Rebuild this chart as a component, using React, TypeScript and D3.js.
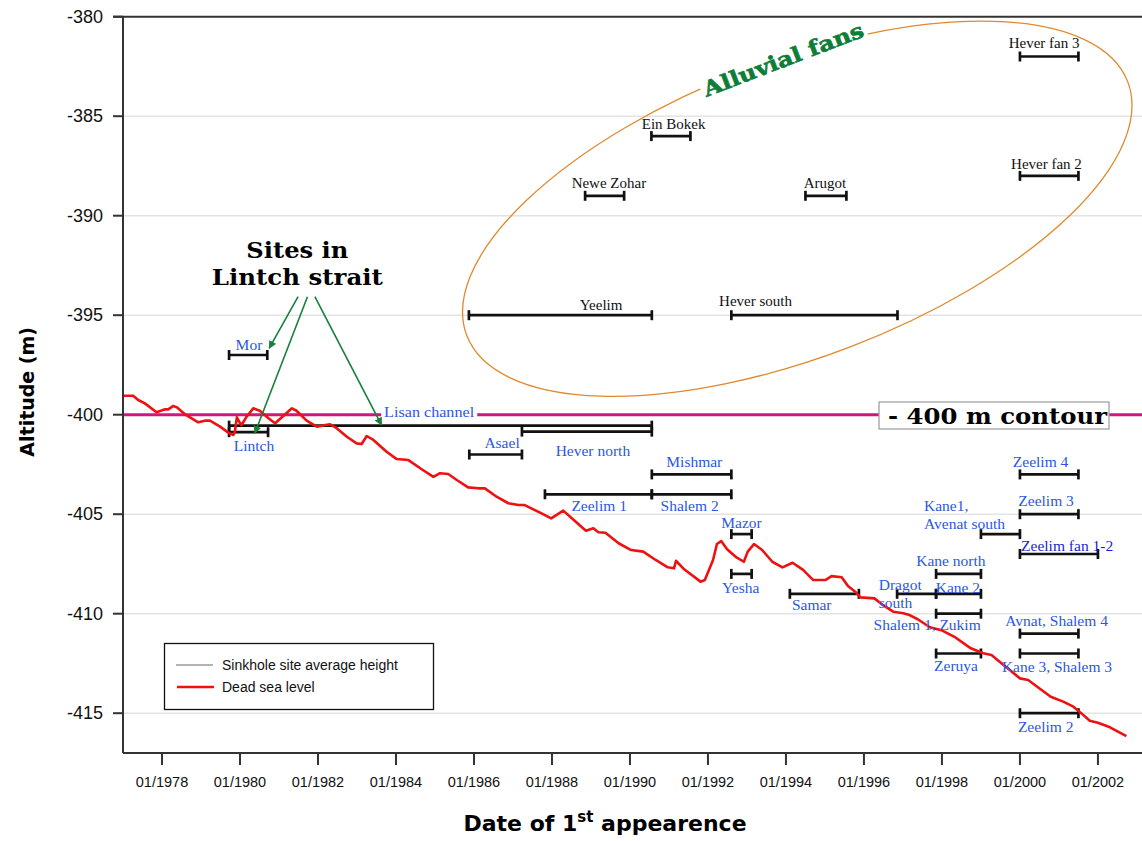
import React, { useEffect, useRef } from 'react';
import * as d3 from 'd3';

const W = 1142;
const H = 841;

const yTicks = [-415, -410, -405, -400, -395, -390, -385, -380];
const xTickYears = [1978, 1980, 1982, 1984, 1986, 1988, 1990, 1992, 1994, 1996, 1998, 2000, 2002];

// Dead sea level (decimal year, altitude m)
const seaYears = [
  1977.01, 1977.26, 1977.39, 1977.56, 1977.86, 1978.08, 1978.16, 1978.29, 1978.38, 1978.59,
  1978.76, 1978.93, 1979.1, 1979.23, 1979.49, 1979.7, 1979.83, 1979.87, 1979.92, 1979.98,
  1980.04, 1980.17, 1980.34, 1980.51, 1980.73, 1980.9, 1981.11, 1981.33, 1981.45, 1981.71,
  1981.97, 1982.31, 1982.48, 1982.74, 1982.99, 1983.12, 1983.25, 1983.42, 1983.76, 1984.02,
  1984.32, 1984.66, 1984.96, 1985.13, 1985.34, 1985.56, 1985.85, 1986.11, 1986.28, 1986.58,
  1986.88, 1987.14, 1987.3, 1987.72, 1987.98, 1988.29, 1988.61, 1988.87, 1989.06, 1989.19,
  1989.37, 1989.71, 1990.03, 1990.34, 1990.66, 1990.97, 1991.13, 1991.18, 1991.39, 1991.81,
  1991.92, 1992.13, 1992.23, 1992.34, 1992.49, 1992.71, 1992.92, 1993.02, 1993.18, 1993.39,
  1993.65, 1993.91, 1994.17, 1994.44, 1994.7, 1995.01, 1995.17, 1995.43, 1995.59, 1995.8,
  1995.91, 1996.27, 1996.48, 1996.75, 1997.01, 1997.17, 1997.38, 1997.69, 1998.01, 1998.32,
  1998.74, 1999.06, 1999.27, 1999.58, 2000.0, 2000.21, 2000.53, 2000.79, 2001.11, 2001.37,
  2001.58, 2001.79, 2002.0, 2002.31, 2002.73,
];
const seaLevels = [
  -399.05, -399.05, -399.26, -399.43, -399.88, -399.73, -399.73, -399.56, -399.63, -399.98,
  -400.18, -400.38, -400.3, -400.3, -400.6, -400.9, -401.02, -400.85, -400.13, -400.35,
  -400.52, -400.1, -399.68, -399.8, -400.18, -400.43, -400.07, -399.68, -399.8, -400.3,
  -400.6, -400.48, -400.68, -401.11, -401.44, -401.47, -401.07, -401.27, -401.86, -402.23,
  -402.28, -402.74, -403.12, -402.94, -402.98, -403.28, -403.65, -403.7, -403.7, -404.12,
  -404.45, -404.54, -404.54, -404.95, -405.21, -404.82, -405.38, -405.83, -405.71, -405.91,
  -405.93, -406.46, -406.8, -406.88, -407.3, -407.67, -407.72, -407.34, -407.77, -408.39,
  -408.31, -407.3, -406.5, -406.35, -406.76, -407.14, -407.39, -406.88, -406.5, -406.8,
  -407.39, -407.67, -407.44, -407.8, -408.31, -408.31, -408.11, -408.17, -408.61, -408.94,
  -409.18, -409.23, -409.56, -409.9, -409.98, -410.07, -410.28, -410.68, -410.85, -411.16,
  -411.74, -411.99, -412.08, -412.58, -413.25, -413.33, -413.8, -414.17, -414.42, -414.67,
  -415.01, -415.38, -415.48, -415.71, -416.15,
];

// Alluvial fan sites (black)
const fanNames = ['Hever fan 3', 'Ein Bokek', 'Hever fan 2', 'Newe Zohar', 'Arugot', 'Yeelim', 'Hever south'];
const fanStart = [2000.0, 1990.55, 2000.0, 1988.85, 1994.5, 1985.87, 1992.6];
const fanEnd = [2001.5, 1991.55, 2001.5, 1989.85, 1995.55, 1990.56, 1996.86];
const fanAlt = [-382, -386, -388, -389, -389, -395, -395];
const fanLabelYear = [2000.62, 1991.12, 2000.68, 1989.46, 1995.0, 1989.26, 1993.22];
const fanLabelAlt = [-381.32, -385.39, -387.4, -388.34, -388.34, -394.49, -394.27];

// Other sinkhole sites (blue)
const siteNames = [
  'Mor', 'Lintch', 'Lisan channel', 'Asael', 'Hever north', 'Mishmar', 'Zeelim 1', 'Shalem 2',
  'Mazor', 'Yesha', 'Samar', 'Dragot\nsouth', 'Kane north', 'Kane 2', 'Shalem 1, Zukim', 'Zeruya',
  'Kane1,\nAvenat south', 'Zeelim 4', 'Zeelim 3', 'Zeelim fan 1-2', 'Avnat, Shalem 4',
  'Kane 3, Shalem 3', 'Zeelim 2',
];
const siteStart = [
  1979.72, 1979.72, 1979.72, 1985.88, 1987.23, 1990.56, 1987.82, 1990.56,
  1992.6, 1992.6, 1994.1, 1996.85, 1997.85, 1997.85, 1997.85, 1997.85,
  1999.0, 2000.0, 2000.0, 2000.0, 2000.0, 2000.0, 2000.0,
];
const siteEnd = [
  1980.7, 1980.72, 1990.56, 1987.23, 1990.56, 1992.6, 1990.56, 1992.6,
  1993.12, 1993.12, 1995.87, 1997.85, 1999.0, 1999.0, 1999.0, 1999.0,
  2000.0, 2001.5, 2001.5, 2002.0, 2001.5, 2001.5, 2001.5,
];
const siteAlt = [
  -397, -400.88, -400.55, -402, -400.85, -403, -404, -404,
  -406, -408, -409, -409, -408, -409, -410, -412,
  -406, -403, -405, -407, -411, -412, -415,
];
const siteLabelYear = [
  1980.23, 1980.36, 1984.85, 1986.72, 1989.05, 1991.65, 1989.21, 1991.53,
  1992.86, 1992.84, 1994.66, 1996.38, 1998.23, 1998.41, 1997.62, 1998.36,
  1997.54, 2000.53, 2000.67, 2001.21, 2000.94, 2000.95, 2000.66,
];
const siteLabelAlt = [
  -396.45, -401.57, -399.91, -401.42, -401.82, -402.36, -404.54, -404.54,
  -405.44, -408.66, -409.56, -408.51, -407.34, -408.67, -410.52, -412.58,
  -404.54, -402.36, -404.29, -406.58, -410.35, -412.63, -415.68,
];

const BLUE = '#2a58e4';
const SERIF = "'Liberation Serif', 'Times New Roman', serif";
const SANS = "'Liberation Sans', Arial, sans-serif";
const SLAB = "'DejaVu Serif', serif";

const App = () => {
  const svgRef = useRef<SVGSVGElement | null>(null);

  useEffect(() => {
    if (!svgRef.current) return;
    const svg = d3.select(svgRef.current);
    svg.selectAll('*').remove();

    const x = d3.scaleLinear().domain([1977, 2003.13]).range([123, 1142]);
    const y = d3.scaleLinear().domain([-417, -380]).range([753, 16.7]);

    // 箭头
    const defs = svg.append('defs');
    defs.append('marker')
      .attr('id', 'greenArrow')
      .attr('viewBox', '0 0 10 10')
      .attr('refX', 9).attr('refY', 5)
      .attr('markerWidth', 8).attr('markerHeight', 8)
      .attr('markerUnits', 'userSpaceOnUse')
      .attr('orient', 'auto')
      .append('path')
      .attr('d', 'M0,0 L10,5 L0,10 z')
      .attr('fill', '#17803a');

    // grid
    yTicks.filter(t => t !== -380).forEach(t => {
      svg.append('line')
        .attr('x1', x(1977)).attr('x2', W)
        .attr('y1', y(t)).attr('y2', y(t))
        .attr('stroke', '#e3e3e3').attr('stroke-width', 1.5);
    });

    // -400 m contour
    svg.append('line')
      .attr('x1', x(1977)).attr('x2', W)
      .attr('y1', y(-400)).attr('y2', y(-400))
      .attr('stroke', '#d4157f').attr('stroke-width', 3);

    // alluvial fans ellipse
    const ex = x(1994.29), ey = y(-389.65);
    svg.append('ellipse')
      .attr('cx', 0).attr('cy', 0)
      .attr('rx', 354).attr('ry', 148)
      .attr('transform', `translate(${ex},${ey}) rotate(-21)`)
      .attr('fill', 'none')
      .attr('stroke', '#e0892e').attr('stroke-width', 1.3);

    const fanText = svg.append('g')
      .attr('transform', `translate(${x(1994.0)},${y(-382.5)}) rotate(-21)`);
    fanText.append('rect')
      .attr('x', -88).attr('y', -19).attr('width', 176).attr('height', 23)
      .attr('fill', '#fff');
    fanText.append('text')
      .attr('text-anchor', 'middle')
      .attr('font-family', SLAB).attr('font-weight', 900)
      .attr('font-size', 21).attr('fill', '#0d7d38')
      .attr('stroke', '#0d7d38').attr('stroke-width', 0.6)
      .attr('textLength', 170).attr('lengthAdjust', 'spacingAndGlyphs')
      .text('Alluvial fans');

    // bars
    const drawBar = (s: number, e: number, a: number) => {
      const g = svg.append('g').attr('stroke', '#111').attr('stroke-width', 2.7);
      g.append('line').attr('x1', x(s)).attr('x2', x(e)).attr('y1', y(a)).attr('y2', y(a));
      [s, e].forEach(v => {
        g.append('line').attr('x1', x(v)).attr('x2', x(v))
          .attr('y1', y(a) - 5).attr('y2', y(a) + 5);
      });
    };
    fanNames.forEach((_, i) => drawBar(fanStart[i], fanEnd[i], fanAlt[i]));
    siteNames.forEach((_, i) => drawBar(siteStart[i], siteEnd[i], siteAlt[i]));

    // dead sea level
    const line = d3.line<number>()
      .x((_, i) => x(seaYears[i]))
      .y(d => y(d));
    svg.append('path')
      .attr('d', line(seaLevels))
      .attr('fill', 'none')
      .attr('stroke', '#ee1111').attr('stroke-width', 2.6)
      .attr('stroke-linejoin', 'round');

    // labels
    fanNames.forEach((n, i) => {
      svg.append('text')
        .attr('x', x(fanLabelYear[i])).attr('y', y(fanLabelAlt[i]))
        .attr('text-anchor', 'middle').attr('dominant-baseline', 'central')
        .attr('font-family', SERIF).attr('font-size', 15).attr('fill', '#111')
        .text(n);
    });

    siteNames.forEach((n, i) => {
      const lines = n.split('\n');
      const multi = lines.length > 1;
      const isLisan = n === 'Lisan channel';
      const t = svg.append('text')
        .attr('x', x(siteLabelYear[i])).attr('y', y(siteLabelAlt[i]))
        .attr('text-anchor', multi ? 'start' : 'middle')
        .attr('dominant-baseline', 'central')
        .attr('font-family', SERIF)
        .attr('font-size', isLisan ? 14 : 15.5)
        .attr('fill', n === 'Zeelim fan 1-2' ? '#1c1fd0' : BLUE);
      if (multi) {
        lines.forEach((l, k) => {
          t.append('tspan')
            .attr('x', x(siteLabelYear[i]))
            .attr('dy', k === 0 ? 0 : 17.5)
            .text(l);
        });
      } else {
        t.text(n);
      }
      if (isLisan) {
        t.attr('textLength', 90).attr('lengthAdjust', 'spacingAndGlyphs');
        const bb = (t.node() as SVGTextElement).getBBox();
        svg.insert('rect', () => t.node())
          .attr('x', bb.x - 3).attr('y', bb.y + 2)
          .attr('width', bb.width + 6).attr('height', bb.height - 5)
          .attr('fill', '#fff');
      }
    });

    // Sites in Lintch strait
    svg.append('text')
      .attr('x', x(1981.47)).attr('y', y(-391.73))
      .attr('text-anchor', 'middle').attr('dominant-baseline', 'central')
      .attr('font-family', SLAB).attr('font-weight', 'bold').attr('font-size', 22)
      .attr('textLength', 102).attr('lengthAdjust', 'spacingAndGlyphs')
      .attr('fill', '#000').text('Sites in');
    svg.append('text')
      .attr('x', x(1981.47)).attr('y', y(-393.07))
      .attr('text-anchor', 'middle').attr('dominant-baseline', 'central')
      .attr('font-family', SLAB).attr('font-weight', 'bold').attr('font-size', 22)
      .attr('textLength', 171).attr('lengthAdjust', 'spacingAndGlyphs')
      .attr('fill', '#000').text('Lintch strait');

    const arrows = [
      [1981.49, -394.07, 1980.75, -396.66],
      [1981.73, -394.07, 1980.38, -400.93],
      [1981.92, -394.07, 1983.63, -400.52],
    ];
    arrows.forEach(([x1, y1, x2, y2]) => {
      svg.append('line')
        .attr('x1', x(x1)).attr('y1', y(y1))
        .attr('x2', x(x2)).attr('y2', y(y2))
        .attr('stroke', '#17803a').attr('stroke-width', 1.6)
        .attr('marker-end', 'url(#greenArrow)');
    });

    // - 400 m contour box
    svg.append('rect')
      .attr('x', 879).attr('y', 402).attr('width', 230).attr('height', 27)
      .attr('fill', '#fff').attr('stroke', '#9a9a9a').attr('stroke-width', 1.2);
    svg.append('text')
      .attr('x', 888).attr('y', 416)
      .attr('dominant-baseline', 'central')
      .attr('font-family', SLAB).attr('font-weight', 'bold').attr('font-size', 22)
      .attr('textLength', 219).attr('lengthAdjust', 'spacingAndGlyphs')
      .attr('fill', '#000').text('- 400 m contour');

    // axes
    svg.append('line')
      .attr('x1', 113).attr('x2', W).attr('y1', y(-380)).attr('y2', y(-380))
      .attr('stroke', '#333').attr('stroke-width', 2);
    svg.append('line')
      .attr('x1', x(1977)).attr('x2', x(1977)).attr('y1', y(-380)).attr('y2', y(-417))
      .attr('stroke', '#333').attr('stroke-width', 2);
    svg.append('line')
      .attr('x1', x(1977)).attr('x2', W).attr('y1', y(-417)).attr('y2', y(-417))
      .attr('stroke', '#333').attr('stroke-width', 2);

    yTicks.forEach(t => {
      svg.append('line')
        .attr('x1', 113).attr('x2', x(1977)).attr('y1', y(t)).attr('y2', y(t))
        .attr('stroke', '#333').attr('stroke-width', 2);
      svg.append('text')
        .attr('x', 103).attr('y', y(t))
        .attr('text-anchor', 'end').attr('dominant-baseline', 'central')
        .attr('font-family', SANS).attr('font-size', 18).attr('fill', '#111')
        .text(String(t));
    });

    xTickYears.forEach(yr => {
      svg.append('line')
        .attr('x1', x(yr)).attr('x2', x(yr)).attr('y1', y(-417)).attr('y2', y(-417) + 12)
        .attr('stroke', '#333').attr('stroke-width', 2);
      svg.append('text')
        .attr('x', x(yr)).attr('y', 787)
        .attr('text-anchor', 'middle')
        .attr('font-family', SANS).attr('font-size', 14.5).attr('fill', '#111')
        .text(`01/${yr}`);
    });

    // axis titles
    svg.append('text')
      .attr('transform', `translate(34,${y(-398.85)}) rotate(-90)`)
      .attr('text-anchor', 'middle')
      .attr('font-family', "'DejaVu Sans', sans-serif").attr('font-weight', 'bold')
      .attr('font-size', 19).attr('fill', '#000')
      .text('Altitude (m)');

    const xt = svg.append('text')
      .attr('x', 605).attr('y', 831)
      .attr('text-anchor', 'middle')
      .attr('font-family', "'DejaVu Sans', sans-serif").attr('font-weight', 'bold')
      .attr('font-size', 22).attr('fill', '#000');
    xt.append('tspan').text('Date of 1');
    xt.append('tspan').attr('font-size', 15).attr('dy', -9).text('st');
    xt.append('tspan').attr('dy', 9).text(' appearence');

    // legend
    const lg = svg.append('g');
    lg.append('rect')
      .attr('x', 164.5).attr('y', 643.5).attr('width', 269).attr('height', 66)
      .attr('fill', '#fff').attr('stroke', '#111').attr('stroke-width', 1.3);
    lg.append('line').attr('x1', 176).attr('x2', 213).attr('y1', 665).attr('y2', 665)
      .attr('stroke', '#666').attr('stroke-width', 1);
    lg.append('line').attr('x1', 177).attr('x2', 214).attr('y1', 687).attr('y2', 687)
      .attr('stroke', '#ee1111').attr('stroke-width', 2.6);
    lg.append('text').attr('x', 222).attr('y', 665)
      .attr('dominant-baseline', 'central')
      .attr('font-family', SANS).attr('font-size', 14).attr('fill', '#111')
      .text('Sinkhole site average height');
    lg.append('text').attr('x', 222).attr('y', 687)
      .attr('dominant-baseline', 'central')
      .attr('font-family', SANS).attr('font-size', 14).attr('fill', '#111')
      .text('Dead sea level');
  }, []);

  return (
    <div style={{ position: 'absolute', left: 0, top: 0, width: W, height: H, background: '#fff' }}>
      <svg ref={svgRef} width={W} height={H} style={{ display: 'block' }} />
    </div>
  );
};

export default App;
